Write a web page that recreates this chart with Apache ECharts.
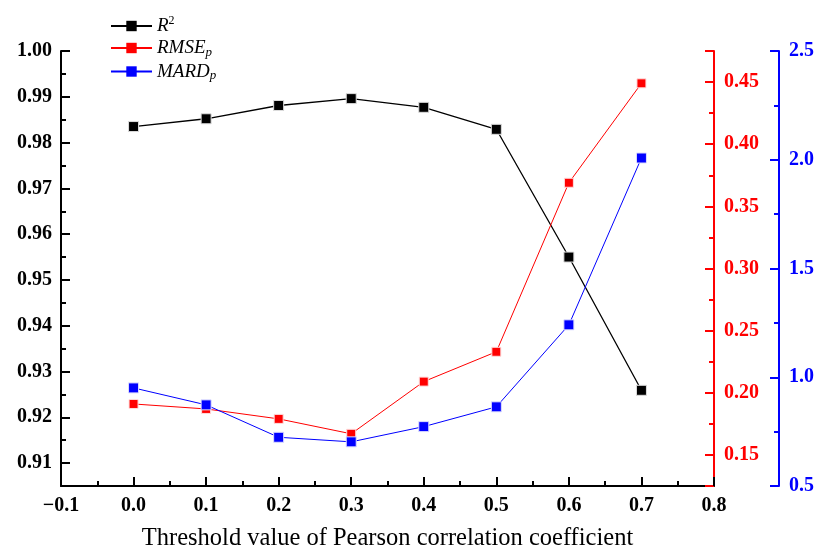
<!DOCTYPE html>
<html>
<head>
<meta charset="utf-8">
<script src="https://cdn.jsdelivr.net/npm/echarts@6/dist/echarts.min.js"></script>
<style>
html, body { margin: 0; background: #fff; }
#chart { width: 817px; height: 556px; }
</style>
</head>
<body>
<div id="chart"></div>
<script>
var thresholds = [0.0, 0.1, 0.2, 0.3, 0.4, 0.5, 0.6, 0.7]
var r2 = [0.9835, 0.9852, 0.9881, 0.9896, 0.9877, 0.9829, 0.955, 0.9259]
var rmseP = [0.191, 0.187, 0.179, 0.167, 0.209, 0.233, 0.369, 0.449]
var mardP = [0.951, 0.873, 0.724, 0.703, 0.773, 0.864, 1.241, 2.008]

var serif = "'Liberation Serif', 'Times New Roman', serif"

function pairs (ys) {
    return thresholds.map(function (x, i) { return [x, ys[i]] })
}

function yAxisStyle (color) {
    return {
        axisLine: { show: true, onZero: false, lineStyle: { color: color, width: 2 } },
        axisTick: { show: true, inside: true, length: 9, lineStyle: { color: color, width: 2 } },
        minorTick: { show: true, splitNumber: 2, length: 5, lineStyle: { color: color, width: 2 } },
        splitLine: { show: false },
        axisLabel: { color: color, fontFamily: serif, fontWeight: 'bold', fontSize: 20, margin: 10 }
    }
}

var chart = echarts.init(document.getElementById('chart'))

var yLeft = Object.assign({ type: 'value', position: 'left', min: 0.905, max: 1.0, splitNumber: 10 }, yAxisStyle('#000'))
yLeft.axisLabel.margin = 9
yLeft.axisLabel.formatter = function (v) {
    var k = Math.round(v * 100)
    return Math.abs(v * 100 - k) < 1e-6 ? v.toFixed(2) : ''
}

var yRed = Object.assign({ type: 'value', position: 'right', min: 0.125, max: 0.475, splitNumber: 7 }, yAxisStyle('#ff0000'))
yRed.axisLabel.formatter = function (v) {
    var k = Math.round(v * 20)
    return Math.abs(v * 20 - k) < 1e-6 ? v.toFixed(2) : ''
}

var yBlue = Object.assign({ type: 'value', position: 'right', offset: 65, min: 0.5, max: 2.5, interval: 0.5 }, yAxisStyle('#0000ff'))
yBlue.axisLabel.formatter = function (v) { return v.toFixed(1) }

chart.setOption({
    backgroundColor: '#fff',
    animation: false,
    grid: { left: 61, right: 103, top: 51, bottom: 68 },
    legend: {
        orient: 'vertical',
        left: 105,
        top: 10,
        itemWidth: 41,
        itemHeight: 13,
        itemGap: 3,
        itemStyle: { borderWidth: 0 },
        data: ['R2', 'RMSEp', 'MARDp'],
        formatter: function (name) {
            if (name === 'R2') return '{i|R}{sup|2}'
            if (name === 'RMSEp') return '{i|RMSE}{sub|p}'
            return '{i|MARD}{sub|p}'
        },
        textStyle: {
            color: '#000',
            fontFamily: serif,
            rich: {
                i: { fontFamily: serif, fontStyle: 'italic', fontSize: 19, lineHeight: 22, color: '#000' },
                sup: { fontFamily: serif, fontSize: 12, lineHeight: 22, verticalAlign: 'top', color: '#000' },
                sub: { fontFamily: serif, fontStyle: 'italic', fontSize: 13, lineHeight: 22, verticalAlign: 'bottom', color: '#000' }
            }
        }
    },
    xAxis: {
        type: 'value',
        min: -0.1,
        max: 0.8,
        interval: 0.1,
        name: 'Threshold value of Pearson correlation coefficient',
        nameLocation: 'middle',
        nameGap: 40,
        nameTextStyle: { fontFamily: serif, fontSize: 24.5, color: '#000' },
        axisLine: { show: true, onZero: false, lineStyle: { color: '#000', width: 2 } },
        axisTick: { show: true, inside: true, length: 9, lineStyle: { color: '#000', width: 2 } },
        minorTick: { show: true, splitNumber: 2, length: 5, lineStyle: { color: '#000', width: 2 } },
        splitLine: { show: false },
        axisLabel: {
            color: '#000',
            fontFamily: serif,
            fontWeight: 'bold',
            fontSize: 20,
            margin: 10,
            formatter: function (v) {
                return v < 0 ? '\u2212' + Math.abs(v).toFixed(1) : v.toFixed(1)
            }
        }
    },
    yAxis: [yLeft, yRed, yBlue],
    series: [
        {
            name: 'R2',
            type: 'line',
            yAxisIndex: 0,
            data: pairs(r2),
            symbol: 'rect',
            symbolSize: 10,
            lineStyle: { color: '#000', width: 1.3 },
            itemStyle: { color: '#000', borderColor: '#ddd', borderWidth: 1 }
        },
        {
            name: 'RMSEp',
            type: 'line',
            yAxisIndex: 1,
            data: pairs(rmseP),
            symbol: 'rect',
            symbolSize: 9,
            lineStyle: { color: '#ff0000', width: 1 },
            itemStyle: { color: '#ff0000', borderColor: '#fdd', borderWidth: 1 }
        },
        {
            name: 'MARDp',
            type: 'line',
            yAxisIndex: 2,
            data: pairs(mardP),
            symbol: 'rect',
            symbolSize: 10,
            lineStyle: { color: '#0000ff', width: 1 },
            itemStyle: { color: '#0000ff', borderColor: '#ddf', borderWidth: 1 }
        }
    ]
})

window.onresize = chart.resize
</script>
</body>
</html>
